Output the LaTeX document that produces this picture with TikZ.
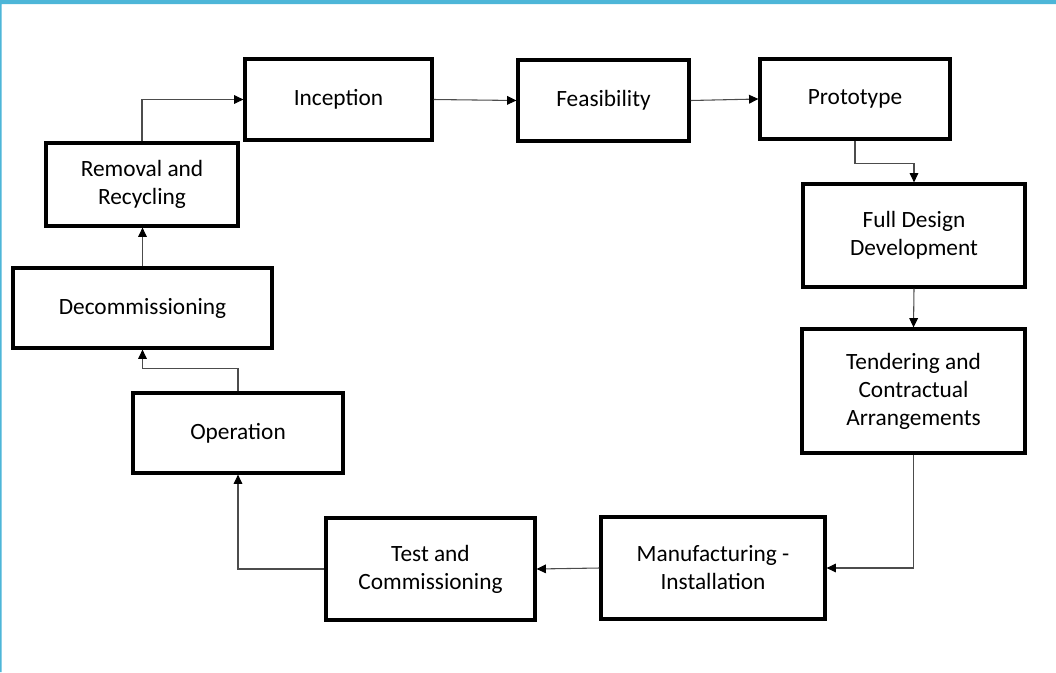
\documentclass[tikz,border=0pt]{standalone}
\usepackage{fontspec}
\setmainfont{Carlito}
\usetikzlibrary{arrows.meta}
\definecolor{frameblue}{RGB}{77,182,216}
\begin{document}
\begin{tikzpicture}[x=0.75pt,y=-0.75pt,>={Triangle[length=7pt,width=6.5pt,color=black]},
	stage/.style={draw,line width=2.4pt,align=center,inner sep=0pt,font=\fontsize{17.5}{21}\selectfont},
	flow/.style={->,line width=0.8pt,draw=black!70}]
			\useasboundingbox (0,0) rectangle (1056,672);
			\fill[frameblue] (0,0) rectangle (1056,4) (0,0) rectangle (1.5,672);
			% top row
			\node[stage,minimum width=140.25pt,minimum height=60.75pt] (inc) at (338.5,99.5) {Inception};
			\node[stage,minimum width=128.25pt,minimum height=60.75pt] (fea) at (603.5,100.5) {Feasibility};
			\node[stage,minimum width=142.5pt,minimum height=60pt] (pro) at (855,99) {Prototype};
			% right column
			\node[stage,minimum width=166.5pt,minimum height=77.25pt] (full) at (914,235.5) {Full Design\\Development};
			\node[stage,minimum width=167.25pt,minimum height=93pt] (tend) at (913.5,391) {Tendering and\\Contractual\\Arrangements};
			% bottom row
			\node[stage,minimum width=168pt,minimum height=76.5pt] (man) at (713,568) {Manufacturing -\\Installation};
			\node[stage,minimum width=156.75pt,minimum height=76.5pt] (test) at (430.5,569) {Test and\\Commissioning};
			% left column
			\node[stage,minimum width=157.5pt,minimum height=60pt] (op) at (238,433) {Operation};
			\node[stage,minimum width=194.25pt,minimum height=60pt] (dec) at (142.5,308) {Decommissioning};
			\node[stage,minimum width=144pt,minimum height=62.25pt] (rem) at (142,184.5) {Removal and\\Recycling};
			% connectors
			\draw[flow] (rem.north) |- (inc.west);
			\draw[flow] (inc.east)--(fea.west);
			\draw[flow] (fea.east)--(pro.west);
			\draw[flow] (pro.south)--++(0,23) -| (full.north);
			\draw[flow] (full.south)--(tend.north);
			\draw[flow] (tend.south) |- (man.east);
			\draw[flow] (man.west)--(test.east);
			\draw[flow] (test.west) -| (op.south);
			\draw[flow] (op.north)--++(0,-23) -| (dec.south);
			\draw[flow] (dec.north)--(dec.north|-rem.south);
	\end{tikzpicture}
\end{document}
